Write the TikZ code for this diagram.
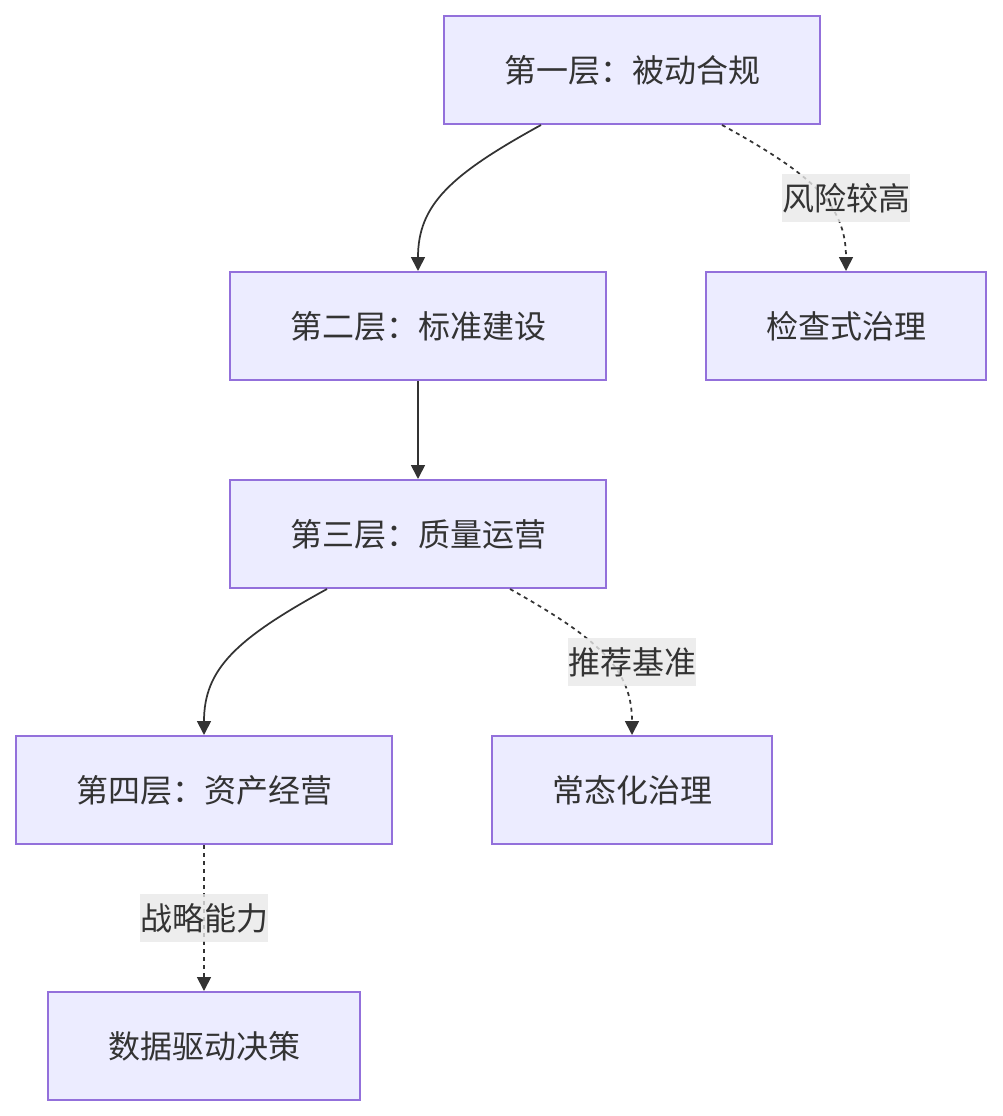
\documentclass[tikz,border=0pt]{standalone}
\usepackage{fontspec}
\newfontfamily\cjk{Noto Sans CJK SC}
\usetikzlibrary{arrows.meta,calc}
\definecolor{boxfill}{HTML}{ECECFF}
\definecolor{boxline}{HTML}{9370DB}
\definecolor{ink}{HTML}{333333}
\definecolor{lblbg}{HTML}{E8E8E8}
\tikzset{box/.style={draw=boxline,fill=boxfill,line width=1.5pt,minimum height=81pt,text=ink,font=\cjk\fontsize{24}{28}\selectfont},
arr/.style={-{Triangle[width=10.5pt,length=10.5pt]},draw=ink,line width=1.3pt},
dotarr/.style={arr,dash pattern=on 3pt off 3pt},
lbl/.style={fill=lblbg,fill opacity=.8,text opacity=1,text=ink,inner xsep=0pt,inner ysep=0pt,minimum height=36pt,font=\cjk\fontsize{24}{28}\selectfont}}
\begin{document}
\begin{tikzpicture}[x=0.75pt,y=-0.75pt]
\useasboundingbox(0,0)rectangle(1002,1116);
\node[box,minimum width=282pt](l1)at(632,70){第一层：被动合规};
\node[box,minimum width=282pt](l2)at(418,326){第二层：标准建设};
\node[box,minimum width=210pt](check)at(846,326){检查式治理};
\node[box,minimum width=282pt](l3)at(418,534){第三层：质量运营};
\node[box,minimum width=282pt](l4)at(204,790){第四层：资产经营};
\node[box,minimum width=210pt](routine)at(632,790){常态化治理};
\node[box,minimum width=234pt](data)at(204,1046){数据驱动决策};
% solid edges
\draw[arr]($(l1.south)+(-91,0)$)..controls(450,175)and(418,205)..(l2.north);
\draw[arr](l2)--(l3);
\draw[arr]($(l3.south)+(-91,0)$)..controls(236,639)and(204,669)..(l4.north);
% dotted edges with labels
\draw[dotarr]($(l1.south)+(90,0)$)..controls(813,175)and(846,205)..(check.north);
\draw[dotarr]($(l3.south)+(92,0)$)..controls(599,639)and(632,669)..(routine.north);
\draw[dotarr](l4)--(data);
\node[lbl](risk)at(846,198){风险较高};
\node[lbl](bench)at(632,662){推荐基准};
\node[lbl](strat)at(204,918){战略能力};
\end{tikzpicture}
\end{document}
